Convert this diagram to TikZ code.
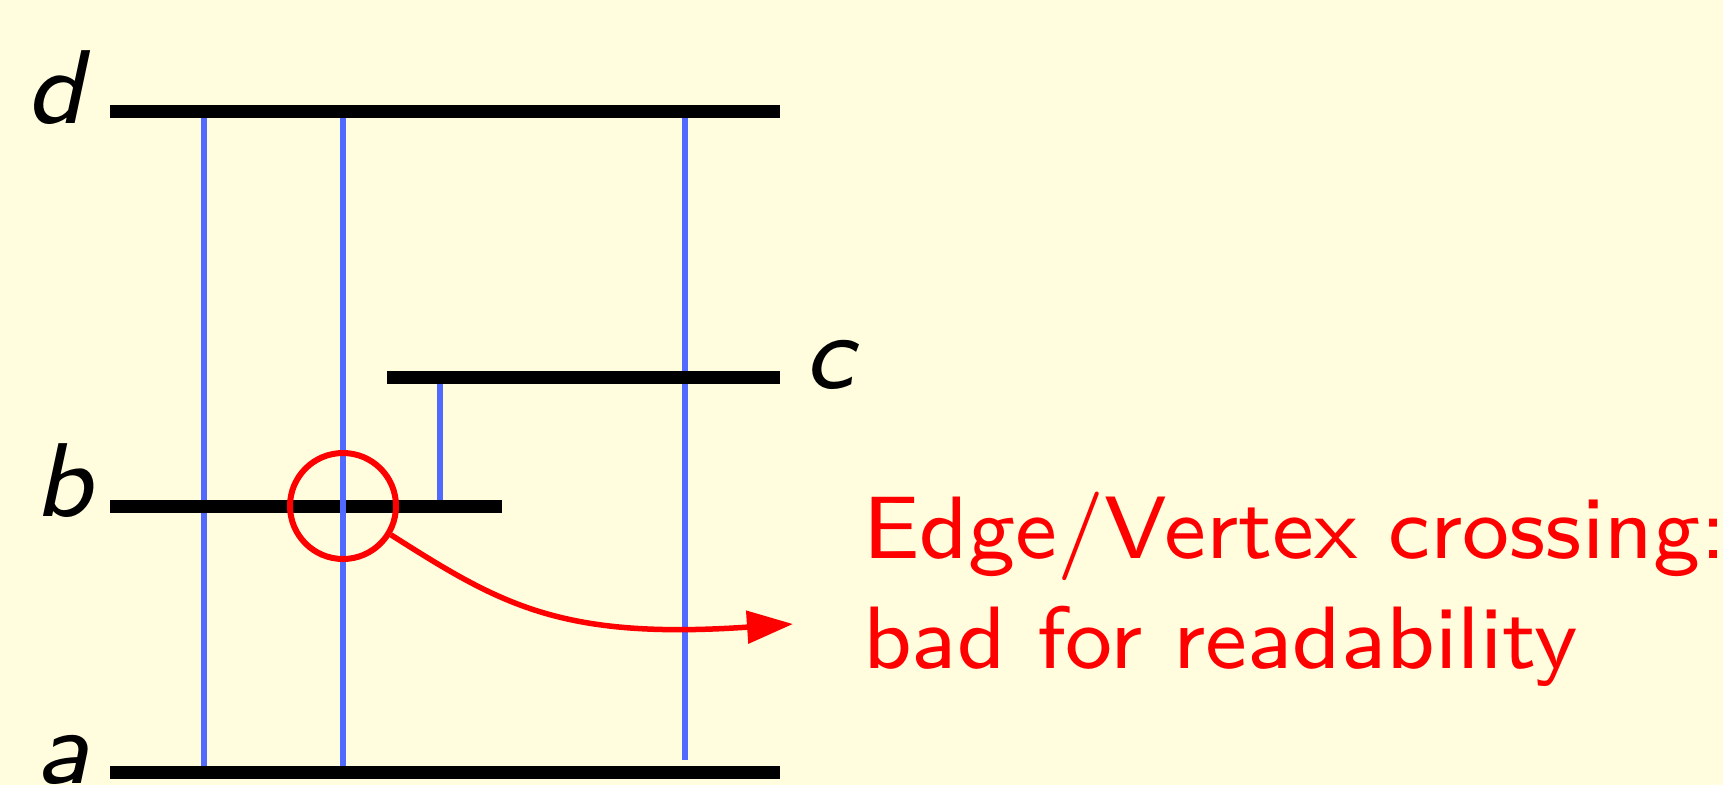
\documentclass[tikz,border=0pt]{standalone}
\usepackage{fontspec}
\newfontfamily\notefont{lmsans8-regular.otf}
\newfontfamily\labelfont{lmsans8-oblique.otf}
\usetikzlibrary{arrows.meta,calc}
\definecolor{bgyellow}{RGB}{255,253,222}
\definecolor{edgeblue}{RGB}{80,105,255}
\definecolor{markred}{RGB}{255,0,0}
\begin{document}
\begin{tikzpicture}[x=1pt,y=-1pt,
  vertexbar/.style={line width=13pt,black},
  edgeline/.style={line width=5.3pt,edgeblue},
  marker/.style={line width=5.5pt,markred},
  vlabel/.style={inner sep=0pt,font=\fontsize{105}{120}\selectfont\labelfont},
  note/.style={inner sep=0pt,align=left,text=markred,font=\fontsize{88.6}{110}\selectfont\notefont}]
\fill[bgyellow] (0,0) rectangle (1723,785);
\useasboundingbox (0,0) rectangle (1723,785);
% vertex bars
\coordinate (dL) at (110,111); \coordinate (dR) at (780,111);
\coordinate (cL) at (387,377); \coordinate (cR) at (780,377);
\coordinate (bL) at (110,506); \coordinate (bR) at (502,506);
\coordinate (aL) at (110,772); \coordinate (aR) at (780,772);
% edge endpoints
\coordinate (e1d) at (204,111); \coordinate (e1a) at (204,772);
\coordinate (e2d) at (343,111); \coordinate (e2a) at (343,772);
\coordinate (e3d) at (685,111); \coordinate (e3a) at (685,760);
\coordinate (e4c) at (440,377); \coordinate (e4b) at (440,506);
\draw[edgeline] (e1d) -- (e1a);
\draw[edgeline] (e3d) -- (e3a);
\draw[edgeline] (e4c) -- (e4b);
\draw[vertexbar] (dL) -- (dR);
\draw[vertexbar] (cL) -- (cR);
\draw[vertexbar] (bL) -- (bR);
\draw[vertexbar] (aL) -- (aR);
\draw[edgeline] ($(e2d)+(0,6.5)$) -- ($(e2a)+(0,-6.5)$);
% labels
\node[vlabel,anchor=base] (ld) at (55,123) {d};
\node[vlabel,anchor=base] (lc) at (829,388) {c};
\node[vlabel,anchor=base] (lb) at (63,516) {b};
\node[vlabel,anchor=base] (la) at (62,783) {a};
% crossing marker
\node[draw=markred,line width=6pt,circle,minimum size=106pt,inner sep=0pt] (cross) at (343,506) {};
\coordinate (arrowtip) at (793,624);
\draw[marker,-{Triangle[length=46pt,width=32pt]}] (cross.-31) .. controls (500,604) and (560,640) .. (arrowtip);
\node[note,anchor=base west] (text) at (863,668) {Edge/Vertex crossing:\\bad for readability};
\end{tikzpicture}
\end{document}
